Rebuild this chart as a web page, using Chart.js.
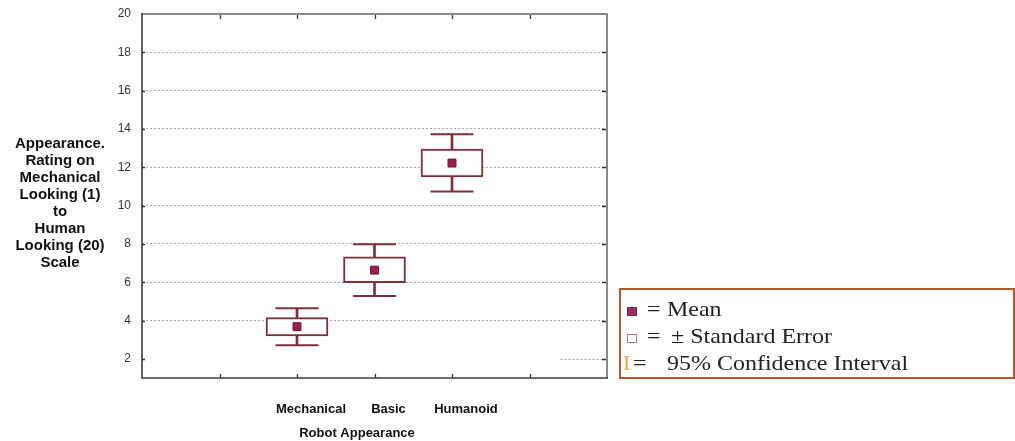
<!DOCTYPE html>
<html>
<head>
<meta charset="utf-8">
<title>Robot Appearance Ratings</title>
<script src="https://cdn.jsdelivr.net/npm/chart.js@4.4.1/dist/chart.umd.min.js"></script>
<style>
  html, body { margin: 0; padding: 0; background: #fff; }
  #wrap { position: relative; width: 1015px; height: 441px; overflow: hidden; background: #fff; }
  #chart { position: absolute; left: 0; top: 0; }
  #key {
    position: absolute; left: 619px; top: 288px;
    width: 392px; height: 87px;
    border: 2px solid #b4582f;
    font-family: "Liberation Serif", "Times New Roman", serif;
    font-size: 22px; line-height: 27px; color: #222;
  }
  #key .row { position: absolute; left: 0; height: 27px; width: 100%; white-space: pre; }
  #key .row span { position: absolute; top: 0; }
  #key .txt { transform: scaleX(1.09); transform-origin: left center; }
  #key .sq { display: inline-block; width: 10px; height: 9px; box-sizing: border-box; top: 12px !important; }
  #key .sq.fill { background: #9b2d5f; border: 1px solid #7a1f47; }
  #key .sq.open { background: #fff; border: 1px solid #a57b96; }
  #key .bar { color: #f0a04a; }
</style>
</head>
<body>
<div id="wrap">
  <canvas id="chart" width="1015" height="441"></canvas>
  <div id="key">
    <div class="row" style="top:5px"><span class="sq fill" style="left:6px"></span><span class="txt" style="left:26px">=</span><span class="txt" style="left:46px">Mean</span></div>
    <div class="row" style="top:32px"><span class="sq open" style="left:6px"></span><span class="txt" style="left:26px">=</span><span class="txt" style="left:50px">± Standard Error</span></div>
    <div class="row" style="top:59px"><span class="bar" style="left:2px">I</span><span class="txt" style="left:12px">=</span><span class="txt" style="left:46px">95% Confidence Interval</span></div>
  </div>
</div>
<script>
// Appearance ratings per robot group: mean, ± standard error box, 95% CI whiskers
const categories = ['Mechanical', 'Basic', 'Humanoid'];
const categoryPositions = [2, 3, 4];
const means   = [3.68, 6.63, 12.22];
const seLower = [3.19, 5.97, 11.49];
const seUpper = [4.15, 7.33, 12.95];
const ciLower = [2.71, 5.28, 10.74];
const ciUpper = [4.64, 7.98, 13.72];
const yTickValues = [2, 4, 6, 8, 10, 12, 14, 16, 18, 20];
const xTickMarks = [1, 2, 3, 4, 5];
const yTitleLines = ['Appearance.', 'Rating on', 'Mechanical', 'Looking (1)', 'to', 'Human', 'Looking (20)', 'Scale'];
const xTitle = 'Robot Appearance';

const SANS = '"Liberation Sans", Arial, Helvetica, sans-serif';
const MAROON = '#7d2f3b';

const points = vals => vals.map((v, i) => ({ x: categoryPositions[i], y: v }));
const spans = (lo, hi) => lo.map((v, i) => ({ x: categoryPositions[i], y: [v, hi[i]] }));

// Axis frame, inward tick marks and the horizontal multi-line titles
const framePlugin = {
  id: 'frame',
  beforeDatasetsDraw(chart) {
    const { ctx, scales: { x, y } } = chart;
    // short dotted gridline segment at the lowest tick
    ctx.save();
    ctx.strokeStyle = '#a8a8a8';
    ctx.lineWidth = 1;
    ctx.setLineDash([2, 2]);
    const yy = Math.round(y.getPixelForValue(2)) + 0.5;
    ctx.beginPath();
    ctx.moveTo(x.getPixelForValue(5.4), yy);
    ctx.lineTo(x.getPixelForValue(6), yy);
    ctx.stroke();
    ctx.restore();
  },
  afterDraw(chart) {
    const { ctx, chartArea: a, scales: { x, y } } = chart;
    ctx.save();
    ctx.setLineDash([]);
    // tick marks pointing into the plot
    ctx.strokeStyle = '#333';
    ctx.lineWidth = 1.3;
    ctx.beginPath();
    xTickMarks.forEach(v => {
      const px = Math.round(x.getPixelForValue(v)) + 0.5;
      ctx.moveTo(px, a.top); ctx.lineTo(px, a.top + 5);
      ctx.moveTo(px, a.bottom); ctx.lineTo(px, a.bottom - 4);
    });
    yTickValues.slice(0, -1).forEach(v => {
      const py = Math.round(y.getPixelForValue(v)) + 0.5;
      ctx.moveTo(a.left, py); ctx.lineTo(a.left + 3, py);
      ctx.moveTo(a.right, py); ctx.lineTo(a.right - 5, py);
    });
    ctx.stroke();
    // frame: dark left/bottom axes, grey top/right edges
    ctx.lineWidth = 2;
    ctx.strokeStyle = '#8a8a8a';
    ctx.beginPath();
    ctx.moveTo(a.left, a.top); ctx.lineTo(a.right, a.top); ctx.lineTo(a.right, a.bottom);
    ctx.stroke();
    ctx.lineWidth = 1.6;
    ctx.strokeStyle = '#3a3a3a';
    ctx.beginPath();
    ctx.moveTo(a.left, a.top - 1); ctx.lineTo(a.left, a.bottom); ctx.lineTo(a.right + 1, a.bottom);
    ctx.stroke();
    // y-axis title, written horizontally on several lines
    ctx.fillStyle = '#111';
    ctx.textAlign = 'center';
    ctx.textBaseline = 'middle';
    ctx.font = 'bold 15px ' + SANS;
    yTitleLines.forEach((line, i) => ctx.fillText(line, 60, 144 + i * 17));
    // x-axis title
    ctx.font = 'bold 13px ' + SANS;
    ctx.fillText(xTitle, 357, 433);
    ctx.restore();
  }
};

new Chart(document.getElementById('chart'), {
  type: 'bar',
  data: {
    datasets: [
      {
        type: 'line', label: 'Mean', data: points(means), showLine: false,
        pointStyle: 'rect', pointRadius: 5.6, pointHoverRadius: 5.6,
        backgroundColor: '#9b1f4d', borderColor: '#6b1632', borderWidth: 1, order: 0
      },
      {
        type: 'line', label: 'CI upper', data: points(ciUpper), showLine: false,
        pointStyle: 'line', pointRadius: 21.5, borderColor: MAROON, borderWidth: 2, order: 1
      },
      {
        type: 'line', label: 'CI lower', data: points(ciLower), showLine: false,
        pointStyle: 'line', pointRadius: 21.5, borderColor: MAROON, borderWidth: 2, order: 1
      },
      {
        type: 'bar', label: 'Standard error', data: spans(seLower, seUpper),
        barThickness: 62, grouped: false, backgroundColor: '#fff',
        borderColor: MAROON, borderWidth: 2, borderSkipped: false, order: 2
      },
      {
        type: 'bar', label: '95% CI', data: spans(ciLower, ciUpper),
        barThickness: 2, grouped: false, backgroundColor: MAROON, borderWidth: 0, order: 3
      }
    ]
  },
  options: {
    responsive: false,
    animation: false,
    events: [],
    layout: { autoPadding: false, padding: { left: 112, right: 408, top: 14, bottom: 0 } },
    plugins: { legend: { display: false }, tooltip: { enabled: false } },
    scales: {
      x: {
        type: 'linear', min: 0, max: 6, offset: false,
        grid: { display: false, drawTicks: false },
        border: { display: false },
        afterBuildTicks: s => { s.ticks = categoryPositions.map(v => ({ value: v })); },
        afterFit: s => { s.height = 63; s.paddingLeft = 0; s.paddingRight = 0; },
        ticks: {
          autoSkip: false, maxRotation: 0, padding: 24, labelOffset: 14,
          color: '#111', font: { family: SANS, size: 13, weight: 'bold' },
          callback: v => categories[categoryPositions.indexOf(v)] ?? ''
        }
      },
      y: {
        type: 'linear', min: 1, max: 20,
        afterBuildTicks: s => { s.ticks = yTickValues.map(v => ({ value: v })); },
        afterFit: s => { s.width = 30; s.paddingTop = 0; s.paddingBottom = 0; },
        grid: {
          drawTicks: false, lineWidth: 1,
          color: c => (c.tick && (c.tick.value === 2 || c.tick.value === 20)) ? 'rgba(0,0,0,0)' : '#a8a8a8'
        },
        border: { display: false, dash: [2, 2] },
        ticks: { padding: 11, color: '#333', font: { family: SANS, size: 12 } }
      }
    }
  },
  plugins: [framePlugin]
});
</script>
</body>
</html>
